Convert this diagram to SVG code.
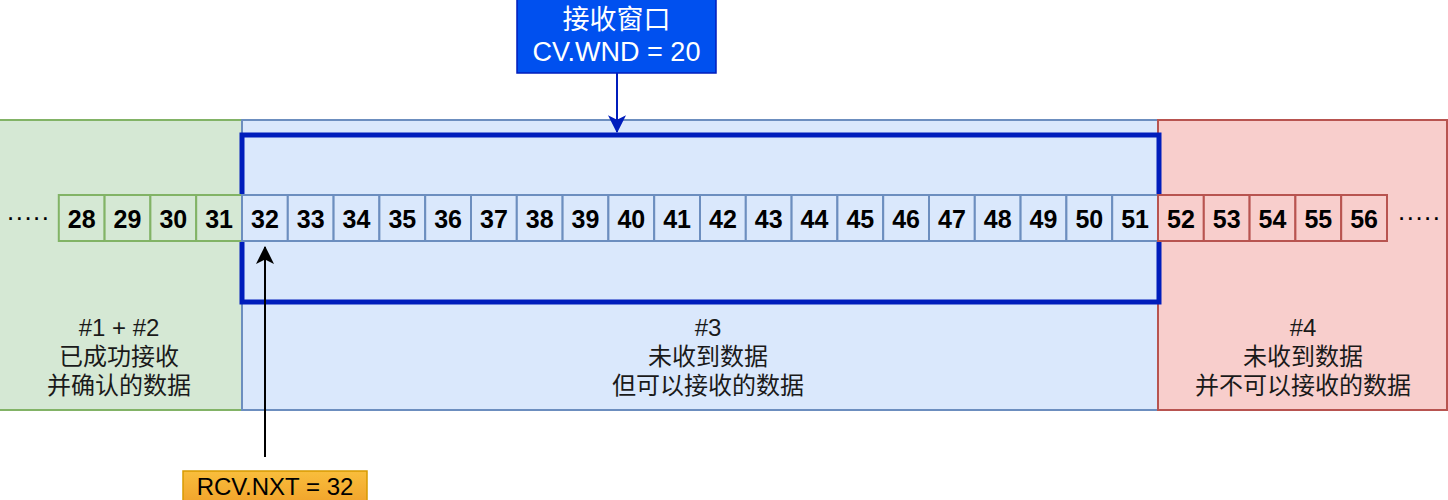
<svg xmlns="http://www.w3.org/2000/svg" width="1448" height="500" viewBox="0 0 1448 500">
<style>
.lbl{font-family:"Liberation Sans","Noto Sans CJK SC",sans-serif;font-size:24px;fill:#1a1a1a;text-anchor:middle}
.num{font-family:"Liberation Sans",sans-serif;font-weight:bold;font-size:25px;fill:#000;text-anchor:middle}
.dots{font-family:"Liberation Sans",sans-serif;font-size:26px;fill:#000;text-anchor:middle}
.g{fill:#d5e8d4;stroke:#82b366;stroke-width:2}
.b{fill:#dae8fc;stroke:#6c8ebf;stroke-width:2}
.r{fill:#f8cecc;stroke:#b85450;stroke-width:2}
</style>
<defs>
<linearGradient id="og" x1="0" y1="0" x2="0" y2="1">
<stop offset="0" stop-color="#f9be3c"/>
<stop offset="1" stop-color="#f0a12a"/>
</linearGradient>
<marker id="ab" viewBox="0 0 16 16" refX="15" refY="8" markerWidth="9" markerHeight="9" orient="auto" markerUnits="strokeWidth">
<path d="M0,0 L16,8 L0,16 L4,8 Z" fill="#001dbc"/>
</marker>
<marker id="ak" viewBox="0 0 16 16" refX="15" refY="8" markerWidth="9" markerHeight="9" orient="auto" markerUnits="strokeWidth">
<path d="M0,0 L16,8 L0,16 L4,8 Z" fill="#000"/>
</marker>
</defs>

<g id="region-acked">
<rect class="g" x="-2" y="120" width="244" height="290"/>
<text class="lbl" x="119" y="336">#1 + #2</text>
<text class="lbl" x="119" y="365">已成功接收</text>
<text class="lbl" x="119" y="394">并确认的数据</text>
</g>
<g id="region-window">
<rect class="b" x="242" y="120" width="916" height="290"/>
<text class="lbl" x="708" y="336">#3</text>
<text class="lbl" x="708" y="365">未收到数据</text>
<text class="lbl" x="708" y="394">但可以接收的数据</text>
</g>
<g id="region-beyond">
<rect class="r" x="1158" y="120" width="289" height="290"/>
<text class="lbl" x="1303" y="336">#4</text>
<text class="lbl" x="1303" y="365">未收到数据</text>
<text class="lbl" x="1303" y="394">并不可以接收的数据</text>
</g>

<g id="window-frame">
<rect x="242" y="135" width="917" height="167" fill="none" stroke="#001dbc" stroke-width="5"/>
</g>

<g id="cells">
<text class="dots" x="28" y="226">·····</text>
<g id="cell-28"><rect class="g" x="58.8" y="195" width="45.8" height="46"/><text class="num" x="81.7" y="228">28</text></g>
<g id="cell-29"><rect class="g" x="104.6" y="195" width="45.8" height="46"/><text class="num" x="127.5" y="228">29</text></g>
<g id="cell-30"><rect class="g" x="150.4" y="195" width="45.8" height="46"/><text class="num" x="173.3" y="228">30</text></g>
<g id="cell-31"><rect class="g" x="196.2" y="195" width="45.8" height="46"/><text class="num" x="219.1" y="228">31</text></g>
<g id="cell-32"><rect class="b" x="242" y="195" width="45.8" height="46"/><text class="num" x="264.9" y="228">32</text></g>
<g id="cell-33"><rect class="b" x="287.8" y="195" width="45.8" height="46"/><text class="num" x="310.7" y="228">33</text></g>
<g id="cell-34"><rect class="b" x="333.6" y="195" width="45.8" height="46"/><text class="num" x="356.5" y="228">34</text></g>
<g id="cell-35"><rect class="b" x="379.4" y="195" width="45.8" height="46"/><text class="num" x="402.3" y="228">35</text></g>
<g id="cell-36"><rect class="b" x="425.2" y="195" width="45.8" height="46"/><text class="num" x="448.1" y="228">36</text></g>
<g id="cell-37"><rect class="b" x="471" y="195" width="45.8" height="46"/><text class="num" x="493.9" y="228">37</text></g>
<g id="cell-38"><rect class="b" x="516.8" y="195" width="45.8" height="46"/><text class="num" x="539.7" y="228">38</text></g>
<g id="cell-39"><rect class="b" x="562.6" y="195" width="45.8" height="46"/><text class="num" x="585.5" y="228">39</text></g>
<g id="cell-40"><rect class="b" x="608.4" y="195" width="45.8" height="46"/><text class="num" x="631.3" y="228">40</text></g>
<g id="cell-41"><rect class="b" x="654.2" y="195" width="45.8" height="46"/><text class="num" x="677.1" y="228">41</text></g>
<g id="cell-42"><rect class="b" x="700" y="195" width="45.8" height="46"/><text class="num" x="722.9" y="228">42</text></g>
<g id="cell-43"><rect class="b" x="745.8" y="195" width="45.8" height="46"/><text class="num" x="768.7" y="228">43</text></g>
<g id="cell-44"><rect class="b" x="791.6" y="195" width="45.8" height="46"/><text class="num" x="814.5" y="228">44</text></g>
<g id="cell-45"><rect class="b" x="837.4" y="195" width="45.8" height="46"/><text class="num" x="860.3" y="228">45</text></g>
<g id="cell-46"><rect class="b" x="883.2" y="195" width="45.8" height="46"/><text class="num" x="906.1" y="228">46</text></g>
<g id="cell-47"><rect class="b" x="929" y="195" width="45.8" height="46"/><text class="num" x="951.9" y="228">47</text></g>
<g id="cell-48"><rect class="b" x="974.8" y="195" width="45.8" height="46"/><text class="num" x="997.7" y="228">48</text></g>
<g id="cell-49"><rect class="b" x="1020.6" y="195" width="45.8" height="46"/><text class="num" x="1043.5" y="228">49</text></g>
<g id="cell-50"><rect class="b" x="1066.4" y="195" width="45.8" height="46"/><text class="num" x="1089.3" y="228">50</text></g>
<g id="cell-51"><rect class="b" x="1112.2" y="195" width="45.8" height="46"/><text class="num" x="1135.1" y="228">51</text></g>
<g id="cell-52"><rect class="r" x="1158" y="195" width="45.8" height="46"/><text class="num" x="1180.9" y="228">52</text></g>
<g id="cell-53"><rect class="r" x="1203.8" y="195" width="45.8" height="46"/><text class="num" x="1226.7" y="228">53</text></g>
<g id="cell-54"><rect class="r" x="1249.6" y="195" width="45.8" height="46"/><text class="num" x="1272.5" y="228">54</text></g>
<g id="cell-55"><rect class="r" x="1295.4" y="195" width="45.8" height="46"/><text class="num" x="1318.3" y="228">55</text></g>
<g id="cell-56"><rect class="r" x="1341.2" y="195" width="45.8" height="46"/><text class="num" x="1364.1" y="228">56</text></g>
<text class="dots" x="1419" y="226">·····</text>
</g>

<g id="rcv-wnd">
<rect x="517" y="-2" width="199" height="75" fill="#0050ef" stroke="#001dbc" stroke-width="1.5"/>
<text x="616.5" y="29" font-family="Liberation Sans,Noto Sans CJK SC,sans-serif" font-size="27" fill="#fff" text-anchor="middle">接收窗口</text>
<text x="616.5" y="61" font-family="Liberation Sans,Noto Sans CJK SC,sans-serif" font-size="27" fill="#fff" text-anchor="middle">CV.WND = 20</text>
</g>

<g id="rcv-nxt">
<rect x="183" y="471" width="184" height="35" fill="url(#og)" stroke="#d79b00" stroke-width="1.5"/>
<text x="275" y="495" font-family="Liberation Sans,sans-serif" font-size="24" fill="#000" text-anchor="middle">RCV.NXT = 32</text>
</g>

<g id="connectors">
<line x1="617" y1="73" x2="617" y2="132" stroke="#001dbc" stroke-width="2" marker-end="url(#ab)"/>
<line x1="265" y1="457" x2="265" y2="247" stroke="#000" stroke-width="2" marker-end="url(#ak)"/>
</g>
</svg>
